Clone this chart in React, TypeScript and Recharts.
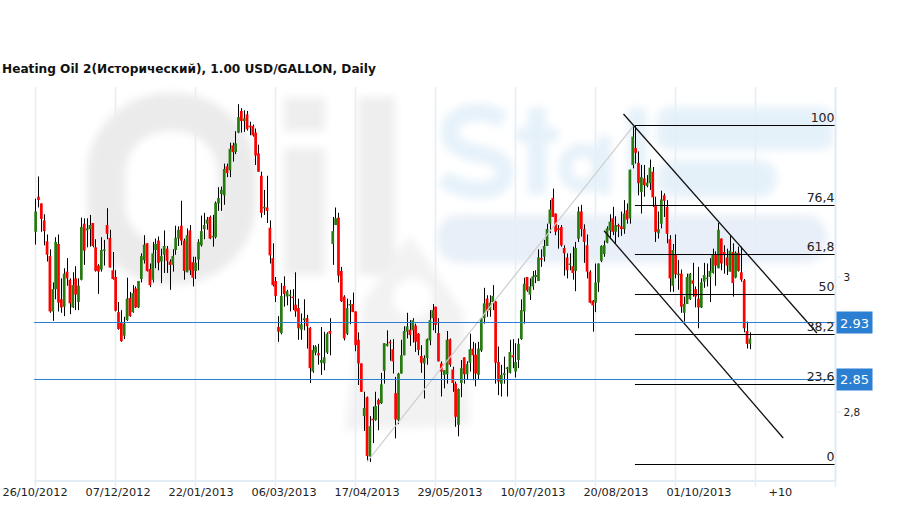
import {
  Bar,
  CartesianGrid,
  ComposedChart,
  ReferenceDot,
  ReferenceLine,
  XAxis,
  YAxis,
} from "recharts";

const TITLE = "Heating Oil 2(Исторический), 1.00 USD/GALLON, Daily";

const opens = [
  3.067, 3.119, 3.109, 3.084, 3.053, 3.031, 2.949, 2.982, 3.049, 2.967,
  2.956, 3.008, 2.996, 2.955, 2.998, 2.963, 2.996, 3.079, 3.069, 3.071,
  3.08, 3.044, 3.017, 3.011, 3.04, 3.077, 3.058, 3.01, 3.0, 2.948,
  2.933, 2.913, 2.936, 2.969, 2.948, 2.983, 2.955, 2.997, 3.025, 3.05,
  3.012, 2.996, 3.04, 3.054, 3.023, 3.033, 3.042, 3.023, 3.018, 3.04,
  3.057, 3.076, 3.054, 3.007, 3.069, 3.022, 3.009, 3.026, 3.047, 3.071,
  3.079, 3.089, 3.059, 3.059, 3.109, 3.123, 3.121, 3.164, 3.158, 3.195,
  3.185, 3.214, 3.246, 3.231, 3.241, 3.224, 3.224, 3.214, 3.183, 3.15,
  3.102, 3.103, 3.073, 3.028, 2.994, 2.926, 2.917, 2.987, 2.971, 2.972,
  2.971, 2.959, 2.954, 2.922, 2.936, 2.939, 2.925, 2.86, 2.888, 2.887,
  2.873, 2.872, 2.888, 2.92, 3.049, 3.077, 3.088, 3.009, 2.971, 2.916,
  2.959, 2.96, 2.949, 2.907, 2.872, 2.794, 2.822, 2.734, 2.79, 2.788,
  2.818, 2.813, 2.861, 2.898, 2.904, 2.893, 2.828, 2.788, 2.857, 2.884,
  2.919, 2.922, 2.921, 2.928, 2.916, 2.883, 2.872, 2.88, 2.906, 2.939,
  2.956, 2.917, 2.872, 2.855, 2.856, 2.908, 2.863, 2.842, 2.781, 2.843,
  2.881, 2.856, 2.873, 2.894, 2.885, 2.855, 2.891, 2.939, 2.968, 2.951,
  2.963, 2.964, 2.874, 2.842, 2.855, 2.865, 2.858, 2.884, 2.86, 2.877,
  2.908, 2.949, 3.0, 2.974, 2.986, 3.0, 2.994, 3.028, 3.03, 3.046,
  3.079, 3.117, 3.094, 3.072, 3.074, 3.043, 3.029, 3.018, 3.016, 3.009,
  3.057, 3.097, 3.071, 3.047, 3.008, 2.965, 2.962, 2.992, 3.024, 3.034,
  3.051, 3.069, 3.087, 3.067, 3.077, 3.075, 3.071, 3.099, 3.087, 3.166,
  3.191, 3.169, 3.126, 3.146, 3.135, 3.139, 3.156, 3.107, 3.065, 3.079,
  3.121, 3.104, 3.056, 2.987, 3.033, 3.004, 3.005, 2.947, 2.96, 2.967,
  2.995, 2.982, 2.968, 2.955, 2.993, 2.998, 3.0, 3.006, 3.033, 3.013,
  3.057, 3.037, 3.029, 3.008, 3.037, 2.999, 3.036, 3.007, 2.995, 2.92,
  2.901,
];

const highs = [
  3.116, 3.149, 3.109, 3.093, 3.063, 3.041, 2.992, 3.059, 3.063, 2.998,
  3.013, 3.028, 2.998, 3.007, 3.016, 2.998, 3.088, 3.087, 3.087, 3.092,
  3.08, 3.056, 3.019, 3.059, 3.055, 3.102, 3.07, 3.037, 3.01, 2.963,
  2.951, 2.941, 2.999, 2.978, 2.988, 2.986, 2.994, 3.035, 3.062, 3.05,
  3.02, 3.052, 3.057, 3.06, 3.042, 3.069, 3.046, 3.026, 3.041, 3.076,
  3.075, 3.113, 3.057, 3.072, 3.077, 3.03, 3.03, 3.056, 3.091, 3.095,
  3.089, 3.091, 3.092, 3.112, 3.133, 3.134, 3.168, 3.168, 3.199, 3.199,
  3.216, 3.256, 3.25, 3.247, 3.246, 3.23, 3.226, 3.22, 3.196, 3.156,
  3.129, 3.15, 3.084, 3.05, 3.0, 2.942, 2.991, 3.001, 2.981, 2.981,
  2.982, 3.007, 2.968, 2.946, 2.967, 2.944, 2.926, 2.899, 2.899, 2.901,
  2.926, 2.919, 2.918, 2.939, 3.089, 3.103, 3.095, 3.015, 2.973, 2.968,
  2.966, 2.977, 2.949, 2.918, 2.872, 2.83, 2.823, 2.794, 2.808, 2.83,
  2.82, 2.858, 2.902, 2.921, 2.907, 2.908, 2.852, 2.858, 2.907, 2.927,
  2.947, 2.936, 2.939, 2.931, 2.917, 2.899, 2.884, 2.909, 2.951, 2.96,
  2.956, 2.939, 2.875, 2.862, 2.92, 2.909, 2.867, 2.845, 2.835, 2.877,
  2.881, 2.875, 2.916, 2.904, 2.902, 2.904, 2.939, 2.984, 2.973, 2.973,
  2.988, 2.965, 2.897, 2.87, 2.882, 2.867, 2.907, 2.908, 2.902, 2.909,
  2.967, 2.999, 3.0, 2.998, 3.009, 3.01, 3.041, 3.041, 3.055, 3.079,
  3.114, 3.131, 3.094, 3.077, 3.077, 3.047, 3.035, 3.035, 3.045, 3.052,
  3.104, 3.107, 3.078, 3.063, 3.01, 2.966, 3.02, 3.02, 3.047, 3.054,
  3.075, 3.093, 3.104, 3.09, 3.079, 3.097, 3.114, 3.109, 3.159, 3.225,
  3.225, 3.186, 3.166, 3.166, 3.151, 3.174, 3.163, 3.119, 3.097, 3.128,
  3.124, 3.114, 3.062, 3.049, 3.063, 3.025, 3.011, 2.971, 3.005, 3.006,
  3.021, 2.986, 3.015, 2.998, 3.021, 3.02, 3.028, 3.042, 3.038, 3.08,
  3.057, 3.047, 3.042, 3.061, 3.05, 3.038, 3.045, 3.045, 2.997, 2.934,
  2.918,
];

const lows = [
  3.048, 3.103, 3.067, 3.047, 3.023, 2.947, 2.935, 2.967, 2.949, 2.947,
  2.942, 2.987, 2.945, 2.954, 2.951, 2.951, 2.995, 3.018, 3.044, 3.045,
  3.044, 3.008, 2.975, 3.008, 3.017, 3.056, 3.014, 2.996, 2.949, 2.922,
  2.904, 2.908, 2.935, 2.941, 2.947, 2.954, 2.954, 2.992, 3.02, 3.008,
  2.985, 2.992, 3.013, 3.01, 2.991, 3.006, 3.006, 2.981, 3.008, 3.033,
  3.046, 3.047, 2.996, 3.007, 3.003, 2.986, 2.997, 3.01, 3.045, 3.056,
  3.07, 3.056, 3.045, 3.057, 3.098, 3.098, 3.107, 3.148, 3.148, 3.171,
  3.182, 3.213, 3.214, 3.215, 3.217, 3.21, 3.208, 3.166, 3.156, 3.088,
  3.092, 3.08, 3.02, 2.986, 2.963, 2.904, 2.915, 2.956, 2.958, 2.949,
  2.951, 2.941, 2.907, 2.907, 2.921, 2.894, 2.843, 2.858, 2.884, 2.87,
  2.855, 2.862, 2.886, 2.884, 3.018, 3.077, 2.992, 2.963, 2.906, 2.914,
  2.93, 2.948, 2.89, 2.84, 2.83, 2.772, 2.728, 2.726, 2.754, 2.787,
  2.773, 2.812, 2.842, 2.897, 2.876, 2.857, 2.761, 2.782, 2.857, 2.884,
  2.909, 2.898, 2.903, 2.889, 2.884, 2.858, 2.82, 2.87, 2.899, 2.921,
  2.917, 2.875, 2.823, 2.835, 2.842, 2.867, 2.83, 2.778, 2.764, 2.822,
  2.842, 2.848, 2.86, 2.847, 2.838, 2.849, 2.889, 2.931, 2.941, 2.941,
  2.951, 2.842, 2.825, 2.823, 2.842, 2.823, 2.857, 2.865, 2.851, 2.865,
  2.907, 2.931, 2.978, 2.966, 2.981, 2.991, 2.994, 3.015, 3.023, 3.046,
  3.065, 3.089, 3.062, 3.042, 3.045, 3.002, 2.998, 3.01, 2.996, 2.979,
  3.052, 3.06, 3.021, 2.998, 2.961, 2.919, 2.948, 2.978, 3.022, 3.03,
  3.05, 3.056, 3.062, 3.05, 3.059, 3.061, 3.064, 3.079, 3.079, 3.161,
  3.168, 3.121, 3.094, 3.119, 3.133, 3.129, 3.104, 3.052, 3.057, 3.072,
  3.089, 3.05, 2.978, 2.978, 2.998, 2.981, 2.947, 2.934, 2.96, 2.966,
  2.971, 2.955, 2.924, 2.954, 2.984, 2.986, 2.963, 3.005, 2.987, 3.013,
  3.01, 3.005, 3.003, 3.008, 2.971, 2.998, 3.008, 2.993, 2.918, 2.894,
  2.893,
];

const closes = [
  3.097, 3.114, 3.086, 3.068, 3.033, 2.949, 2.982, 3.052, 2.962, 2.955,
  3.005, 2.998, 2.961, 2.988, 2.974, 2.987, 3.074, 3.039, 3.072, 3.077,
  3.046, 3.009, 3.008, 3.04, 3.041, 3.064, 3.014, 2.997, 2.95, 2.923,
  2.905, 2.931, 2.968, 2.942, 2.976, 2.955, 2.994, 3.031, 3.048, 3.009,
  2.988, 3.035, 3.049, 3.021, 3.031, 3.046, 3.024, 3.018, 3.031, 3.058,
  3.07, 3.054, 3.009, 3.062, 3.01, 2.999, 3.021, 3.052, 3.068, 3.077,
  3.085, 3.057, 3.061, 3.11, 3.117, 3.129, 3.16, 3.154, 3.19, 3.185,
  3.198, 3.237, 3.231, 3.235, 3.219, 3.222, 3.21, 3.18, 3.156, 3.095,
  3.104, 3.098, 3.032, 2.988, 2.972, 2.919, 2.972, 2.975, 2.979, 2.974,
  2.969, 2.949, 2.924, 2.93, 2.939, 2.927, 2.865, 2.892, 2.897, 2.884,
  2.877, 2.881, 2.916, 2.916, 3.068, 3.087, 3.002, 2.964, 2.909, 2.954,
  2.96, 2.948, 2.899, 2.872, 2.83, 2.806, 2.735, 2.779, 2.788, 2.809,
  2.811, 2.841, 2.902, 2.901, 2.902, 2.875, 2.789, 2.857, 2.884, 2.92,
  2.927, 2.914, 2.936, 2.904, 2.892, 2.873, 2.88, 2.908, 2.936, 2.951,
  2.929, 2.875, 2.86, 2.862, 2.907, 2.87, 2.843, 2.793, 2.834, 2.865,
  2.856, 2.871, 2.893, 2.884, 2.857, 2.894, 2.939, 2.961, 2.949, 2.962,
  2.972, 2.873, 2.845, 2.855, 2.858, 2.866, 2.889, 2.881, 2.874, 2.901,
  2.951, 2.99, 2.98, 2.986, 3.001, 3.003, 3.029, 3.026, 3.046, 3.071,
  3.1, 3.089, 3.067, 3.071, 3.047, 3.035, 3.01, 3.02, 3.006, 3.043,
  3.097, 3.071, 3.052, 3.008, 2.962, 2.958, 2.992, 3.02, 3.046, 3.047,
  3.072, 3.082, 3.067, 3.077, 3.075, 3.071, 3.094, 3.085, 3.159, 3.208,
  3.184, 3.139, 3.148, 3.136, 3.14, 3.162, 3.118, 3.067, 3.071, 3.115,
  3.113, 3.064, 2.998, 3.04, 3.004, 3.005, 2.956, 2.96, 3.0, 3.005,
  2.99, 2.971, 2.955, 2.992, 3.003, 2.999, 3.009, 3.033, 3.017, 3.07,
  3.02, 3.034, 3.017, 3.039, 2.991, 3.036, 3.009, 2.996, 2.924, 2.901,
  2.909,
];

const dateLabels = [
  "26/10/2012", "07/12/2012", "22/01/2013", "06/03/2013", "17/04/2013",
  "29/05/2013", "10/07/2013", "20/08/2013", "01/10/2013",
];
const dateTicks = [0, 28, 56, 84, 112, 140, 168, 196, 224];
const gridTicks = [0, 28, 56, 84, 112, 140, 168, 196, 224, 252];
const futureTick = 260;
const lastTick = 280;
const priceTicks = [2.8, 3];

const fibLevels = [3.22446, 3.10594, 3.03335, 2.97409, 2.91483, 2.84076, 2.72224];
const fibLabels = ["100", "76,4", "61,8", "50", "38,2", "23,6", "0"];
const priceLines = [2.93261, 2.84817];
const priceLineLabels = ["2.93", "2.85"];

const data = opens.map((open, i) => ({
  i,
  open,
  high: highs[i],
  low: lows[i],
  close: closes[i],
}));

const RED = "#ff0000";
const GREEN = "#267a10";
const BLUE = "#2a7fd3";
const FONT = "'DejaVu Sans', Verdana, sans-serif";

function Candle(props: any) {
  const { x, y, width, height, payload } = props;
  const k = height / (payload.high - payload.low);
  const top = y + (payload.high - Math.max(payload.open, payload.close)) * k;
  const bottom = y + (payload.high - Math.min(payload.open, payload.close)) * k;
  const cx = x + width / 2;
  const up = payload.close >= payload.open;
  return (
    <g>
      <line x1={Math.round(cx) + 0.5} x2={Math.round(cx) + 0.5} y1={y} y2={y + height} stroke="#000" />
      <rect
        x={cx - 1.1}
        y={top}
        width={2.7}
        height={Math.max(bottom - top, 1.5)}
        fill={up ? GREEN : RED}
      />
    </g>
  );
}

function DateTick(props: any) {
  const { x, y, payload } = props;
  const at = dateTicks.indexOf(payload.value);
  const isFuture = payload.value === futureTick;
  // the source spaces its labels 83px apart while the ticks sit 80px apart
  const labelX = isFuture ? x + 2 : x - 0.5 + Math.max(at, 0) * 3;
  return (
    <g>
      {!isFuture && <line x1={x} x2={x} y1={y} y2={y + 6} stroke="#e3edf6" strokeWidth={1.5} />}
      <text x={labelX} y={y + 15} textAnchor="middle" fontSize={11.3} fontFamily={FONT} fill="#222">
        {at >= 0 ? dateLabels[at] : isFuture ? "+10" : ""}
      </text>
    </g>
  );
}

function PriceTick(props: any) {
  const { x, y, payload } = props;
  return (
    <g>
      <line x1={x + 2} x2={x + 5} y1={y} y2={y} stroke="#d5e3ef" />
      <text x={x + 8} y={y + 4} fontSize={10.5} fontFamily={FONT} fill="#222">
        {String(payload.value).replace(".", ",")}
      </text>
    </g>
  );
}

function FibLabel(props: any) {
  return (
    <text x={props.cx - 1} y={props.cy - 4} textAnchor="end" fontSize={12.5} fontFamily={FONT} fill="#222">
      {props.text}
    </text>
  );
}

function PriceBox(props: any) {
  return (
    <g>
      <rect x={props.cx + 1} y={props.cy - 11} width={36} height={22} fill={BLUE} />
      <text x={props.cx + 19} y={props.cy + 5} textAnchor="middle" fontSize={13} fontFamily={FONT} fill="#fff">
        {props.text}
      </text>
    </g>
  );
}

// blurred logo behind the plot
function Watermark() {
  return (
    <svg width={908} height={509} style={{ position: "absolute", left: 0, top: 0 }}>
      <defs>
        <filter id="soft" x="-5%" y="-5%" width="110%" height="110%">
          <feGaussianBlur stdDeviation={4} />
        </filter>
      </defs>
      <g filter="url(#soft)">
        <rect x={106} y={112} width={131} height={153} rx={62} fill="none" stroke="#ebebeb" strokeWidth={38} />
        <rect x={284} y={98} width={41} height={33} fill="#eeeeee" />
        <rect x={284} y={148} width={41} height={127} fill="#eeeeee" />
        <rect x={358} y={97} width={37} height={178} fill="#eeeeee" />
        <polygon points="410,235 463,312 470,425 345,430 363,302" fill="#f2f2f2" />
        <circle cx={413} cy={298} r={20} fill="#fff" />
        <path d="M503 120 C475 103 446 116 450 136 C456 160 505 148 505 172 C505 195 465 195 443 178" fill="none" stroke="#e5f1f9" strokeWidth={17} />
        <rect x={528} y={108} width={18} height={86} fill="#e5f1f9" />
        <rect x={516} y={128} width={42} height={14} fill="#e5f1f9" />
        <ellipse cx={582} cy={168} rx={17} ry={18} fill="none" stroke="#e5f1f9" strokeWidth={13} />
        <rect x={597} y={136} width={14} height={58} fill="#e5f1f9" />
        <rect x={628} y={108} width={18} height={86} fill="#e5f1f9" />
        <rect x={657} y={107} width={176} height={43} rx={12} fill="#e5f1f9" />
        <rect x={657} y={160} width={120} height={37} rx={18} fill="#e5f1f9" />
        <rect x={437} y={215} width={390} height={48} rx={22} fill="#e8eff8" />
      </g>
    </svg>
  );
}

export default function App() {
  return (
    <div style={{ position: "absolute", left: 0, top: 0, width: 908, height: 509, background: "#fff" }}>
      <Watermark />
      <div
        style={{
          position: "absolute",
          left: 2,
          top: 61,
          fontFamily: FONT,
          fontWeight: "bold",
          fontSize: 12.15,
          lineHeight: "16px",
          color: "#111",
          whiteSpace: "nowrap",
        }}
      >
        {TITLE}
      </div>
      <div style={{ position: "absolute", left: 0, top: 0 }}>
        <ComposedChart
          width={908}
          height={509}
          data={data}
          margin={{ top: 87, right: 0, bottom: 0, left: 34.1 }}
        >
          <CartesianGrid horizontal={false} verticalValues={gridTicks} stroke="#e4eef7" strokeWidth={1.5} />
          <XAxis
            dataKey="i"
            type="number"
            domain={[-0.5, lastTick]}
            ticks={[...dateTicks, 252, futureTick, lastTick]}
            interval={0}
            height={28}
            tickLine={false}
            tickSize={0}
            tickMargin={0}
            axisLine={{ stroke: "#e3edf6", strokeWidth: 2 }}
            tick={<DateTick />}
          />
          <YAxis
            orientation="right"
            type="number"
            domain={[2.6978, 3.2815]}
            allowDataOverflow
            ticks={priceTicks}
            width={72.5}
            tickLine={false}
            tickSize={0}
            tickMargin={0}
            axisLine={{ stroke: "#dfeaf4", strokeWidth: 2 }}
            tick={<PriceTick />}
          />
          <ReferenceLine
            segment={[
              { x: 116, y: 2.726 },
              { x: 209.5, y: 3.2252 },
            ]}
            stroke="#cfcfcf"
            strokeWidth={1.2}
          />
          {fibLevels.map((level) => (
            <ReferenceLine
              key={level}
              segment={[
                { x: 209.8, y: level },
                { x: lastTick, y: level },
              ]}
              stroke="#000"
            />
          ))}
          <ReferenceLine
            segment={[
              { x: 205.8, y: 3.2415 },
              { x: 273.5, y: 2.917 },
            ]}
            stroke="#111"
            strokeWidth={1.3}
          />
          <ReferenceLine
            segment={[
              { x: 199, y: 3.0686 },
              { x: 261.7, y: 2.7615 },
            ]}
            stroke="#111"
            strokeWidth={1.3}
          />
          {priceLines.map((level) => (
            <ReferenceLine key={level} y={level} stroke={BLUE} />
          ))}
          <Bar
            dataKey={(d: any) => [d.low, d.high]}
            barSize={3}
            shape={<Candle />}
            isAnimationActive={false}
          />
          {fibLevels.map((level, i) => (
            <ReferenceDot
              key={level}
              x={lastTick}
              y={level}
              r={0}
              ifOverflow="visible"
              shape={(p: any) => <FibLabel {...p} text={fibLabels[i]} />}
            />
          ))}
          {priceLines.map((level, i) => (
            <ReferenceDot
              key={level}
              x={lastTick}
              y={level}
              r={0}
              ifOverflow="visible"
              shape={(p: any) => <PriceBox {...p} text={priceLineLabels[i]} />}
            />
          ))}
        </ComposedChart>
      </div>
    </div>
  );
}
